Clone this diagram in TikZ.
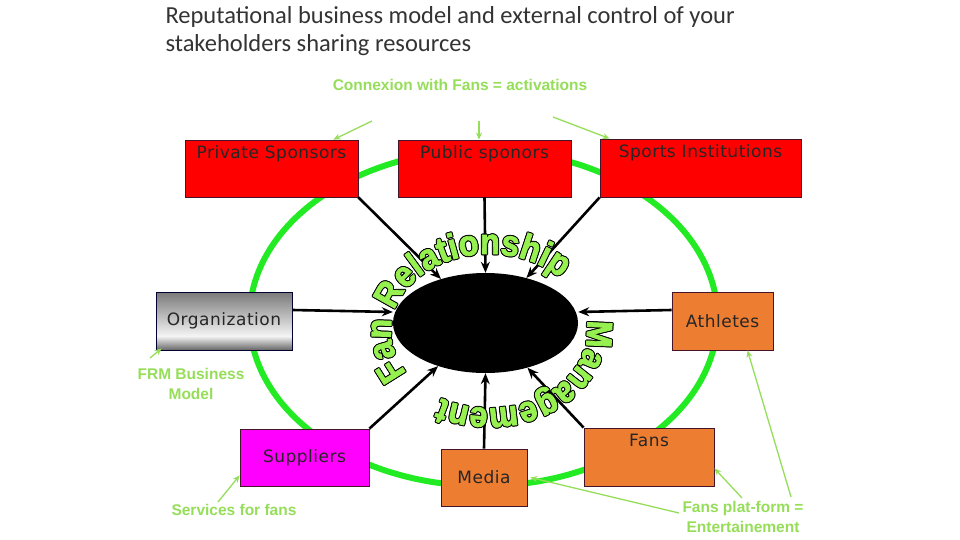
\documentclass[tikz,border=0pt]{standalone}
\usepackage{fontspec}
\setmainfont{Carlito}
\newfontfamily\boxfont[LetterSpace=3]{DejaVu Sans}
\newfontfamily\notefont{Liberation Sans}
\newfontfamily\arcfont[FakeStretch=0.9,BoldFeatures={FakeBold=2.2}]{Liberation Sans}
\usetikzlibrary{shapes.geometric,arrows.meta,decorations.text}

\definecolor{ringgreen}{RGB}{35,235,35}
\definecolor{notegreen}{RGB}{150,222,90}
\definecolor{arcgreen}{RGB}{150,240,80}
\definecolor{boxred}{RGB}{255,0,0}
\definecolor{boxorange}{RGB}{237,125,49}
\definecolor{boxpink}{RGB}{255,0,255}
\definecolor{boxline}{RGB}{70,20,40}

\pgfdeclareverticalshading{orgshade}{100bp}{color(0bp)=(gray!80!black); color(25bp)=(gray!80!black); color(37bp)=(gray!8); color(75bp)=(gray!95!black); color(100bp)=(gray!95!black)}

\newcommand\boxtxt{\boxfont\fontsize{17}{20}\selectfont}

\begin{document}
\begin{tikzpicture}[x=1pt,y=1pt,
	box/.style={draw=boxline, line width=0.8pt, inner sep=0pt, font=\boxtxt, text=black!85},
	toptext/.style={label={[anchor=north, inner sep=0pt, yshift=-6pt, font=\boxtxt, text=black!85]north:#1}},
	link/.style={line width=2.6pt, -{Stealth[length=11pt,width=9pt]}},
	note/.style={text=notegreen, font=\notefont\bfseries\fontsize{15.5}{19.5}\selectfont, align=center},
	notearrow/.style={draw=notegreen, line width=1.3pt, -{Stealth[length=7pt,width=6pt]}},
	arctext/.style={decorate, decoration={text along path, text color=arcgreen,
		text={|\arcfont\bfseries\fontsize{36}{36}\selectfont|#1}}},
]
	\fill[white] (0,0) rectangle (960,-540);

	% title
	\node[anchor=north west, align=left, font=\fontsize{24.5}{28}\selectfont, text=black!80] (title) at (162,-3)
		{Reputational business model and external control of your\\stakeholders sharing resources};

	% ring
	\draw[ringgreen, line width=6pt] (483.5,-318) ellipse [x radius=234, y radius=168];

	% stakeholders
	\node[box, fill=boxred, minimum width=173pt, minimum height=57pt, toptext={Private Sponsors}] (priv) at (271.5,-168.5) {};
	\node[box, fill=boxred, minimum width=173pt, minimum height=57pt, toptext={Public sponors}] (pub) at (484.5,-168.5) {};
	\node[box, fill=boxred, minimum width=201pt, minimum height=58pt, toptext={Sports Institutions}] (sports) at (700.5,-168) {};
	\node[box, draw=blue!20!black, shading=orgshade, minimum width=136pt, minimum height=58pt] (org) at (224,-321) {Organization};
	\node[box, fill=boxorange, minimum width=101pt, minimum height=58pt] (ath) at (722.5,-321) {Athletes};
	\node[box, fill=boxpink, minimum width=129pt, minimum height=57pt] (supp) at (304.5,-457.5) {Suppliers};
	\node[box, fill=boxorange, minimum width=86pt, minimum height=57pt] (media) at (484,-477.5) {Media};
	\node[box, fill=boxorange, minimum width=130pt, minimum height=58pt, toptext={Fans}] (fans) at (649,-457) {};

	% core
	\node[ellipse, fill=black, minimum width=185pt, minimum height=100pt, inner sep=0pt] (core) at (485.5,-323) {};

	\draw[link] (priv.south east) -- (core);
	\draw[link] (pub.south) -- (core.north);
	\draw[link] (sports.south west) -- (core);
	\draw[link] ([yshift=11pt]org.east) -- ([yshift=11pt]core.west);
	\draw[link] ([yshift=11pt]ath.west) -- ([yshift=11pt]core.east);
	\draw[link] (supp.north east) -- (core);
	\draw[link] (media.north) -- (core.south);
	\draw[link] (fans.north west) -- (core);

	% curved words
	\foreach \dx/\dy in {1/0,-1/0,0/1,0/-1,0.7/0.7,-0.7/0.7,0.7/-0.7,-0.7/-0.7} {
		\path[arctext={Fan Relationship}, decoration={text color=black}, shift={(\dx,\dy)}]
			(489,-331) ++(213:98 and 77) arc[start angle=213, end angle=30, x radius=98, y radius=77];
		\path[arctext={Management}, decoration={text color=black}, shift={(\dx,\dy)}]
			(489,-331) ++(8:98 and 77) arc[start angle=8, end angle=-150, x radius=98, y radius=77];
	}
	\path[arctext={Fan Relationship}]
		(489,-331) ++(213:98 and 77) arc[start angle=213, end angle=30, x radius=98, y radius=77];
	\path[arctext={Management}]
		(489,-331) ++(8:98 and 77) arc[start angle=8, end angle=-150, x radius=98, y radius=77];

	% notes
	\node[note] (conn) at (460,-85) {Connexion with Fans = activations};
	\coordinate (c1) at (372,-121);
	\coordinate (c2) at (479,-121);
	\coordinate (c3) at (553,-117);
	\draw[notearrow] (c1) -- ([xshift=-25pt]priv.north east);
	\draw[notearrow] (c2) -- ([xshift=-5.5pt]pub.north);
	\draw[notearrow] (c3) -- ([xshift=10pt]sports.north west);

	\node[note] (frm) at (191,-384) {FRM Business\\Model};
	\coordinate (f1) at (150,-358);
	\draw[notearrow] (f1) -- ([xshift=6pt,yshift=2pt]org.south west);

	\node[note] (serv) at (234,-510) {Services for fans};
	\coordinate (s1) at (218,-502);
	\draw[notearrow] (s1) -- ([yshift=11pt]supp.south west);

	\node[note] (ent) at (743,-517) {Fans plat-form =\\Entertainement};
	\coordinate (e1) at (742,-498);
	\coordinate (e2) at (791,-497);
	\coordinate (e3) at (679,-513);
	\draw[notearrow] (e1) -- ([yshift=18pt]fans.south east);
	\draw[notearrow] (e2) -- ([xshift=25pt]ath.south);
	\draw[notearrow] (e3) -- ([xshift=3pt]media.east);
\end{tikzpicture}
\end{document}
